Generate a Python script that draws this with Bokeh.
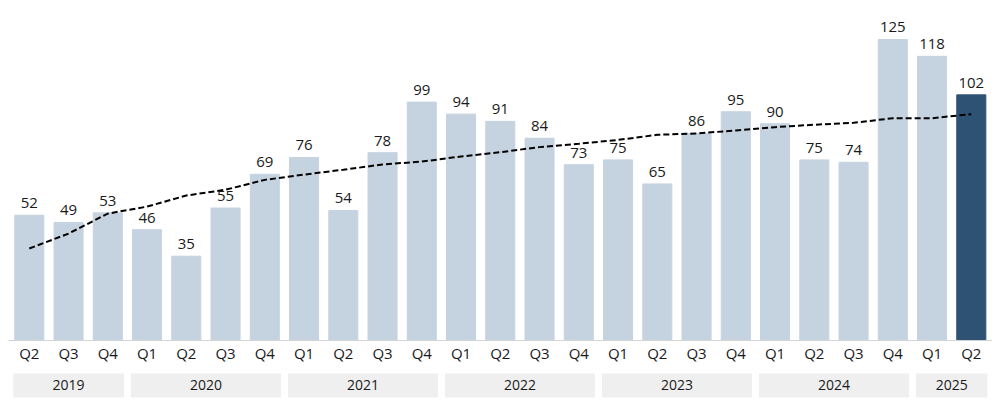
from bokeh.plotting import figure
from bokeh.models import ColumnDataSource, Range1d
from bokeh.core.properties import value
from bokeh.embed import file_html
from bokeh.resources import INLINE

# ---- data ----
quarters = ["Q2", "Q3", "Q4",
            "Q1", "Q2", "Q3", "Q4",
            "Q1", "Q2", "Q3", "Q4",
            "Q1", "Q2", "Q3", "Q4",
            "Q1", "Q2", "Q3", "Q4",
            "Q1", "Q2", "Q3", "Q4",
            "Q1", "Q2"]
years = ["2019", "2020", "2021", "2022", "2023", "2024", "2025"]
quarters_per_year = [3, 4, 4, 4, 4, 4, 2]
values = [52, 49, 53, 46, 35, 55, 69, 76, 54, 78, 99, 94, 91, 84, 73,
          75, 65, 86, 95, 90, 75, 74, 125, 118, 102]
trend = [38.2, 44.4, 52.7, 55.6, 60.2, 62.6, 66.7, 68.9, 70.9, 73.1, 74.3,
         76.4, 78.2, 80.3, 81.7, 83.3, 85.4, 86.0, 87.2, 88.6, 89.6, 90.4,
         92.3, 92.3, 94.0]

FONT = "Open Sans"
LIGHT = "#c5d3e0"
DARK = "#2e5273"
TEXT = "#1a1a1a"

n = len(values)
xs = list(range(n))
colors = [LIGHT] * (n - 1) + [DARK]

PXU = 2.408  # pixels per value unit

p = figure(width=1000, height=411, output_backend="svg", toolbar_location=None,
           x_range=Range1d(-0.734, 24.744), y_range=Range1d(-29.49, 141.19),
           min_border=0)
p.axis.visible = False
p.xgrid.visible = False
p.ygrid.visible = False
p.outline_line_color = None
p.background_fill_color = "white"
p.border_fill_color = "white"

src = ColumnDataSource(dict(x=xs, top=values, color=colors,
                            label=[str(v) for v in values], q=quarters,
                            zero=[0] * n, trend=trend))

p.vbar(x="x", top="top", bottom=0, width=0.74, color="color", source=src)

p.segment(x0=[-0.53], x1=[24.53], y0=[0], y1=[0], line_color="#d4d4d4",
          line_width=1)

p.line(x="x", y="trend", source=src, line_color="black", line_width=2,
       line_dash="6 3")

p.text(x="x", y="top", text="label", source=src, text_align="center",
       text_baseline="alphabetic", y_offset=-12, text_font=value(FONT),
       text_font_size="15px", text_color=TEXT)

p.text(x="x", y="zero", text="q", source=src, text_align="center",
       text_baseline="middle", y_offset=13, text_font=value(FONT),
       text_font_size="15px", text_color=TEXT)

# year bands
lefts, rights, mids = [], [], []
start = 0
for cnt in quarters_per_year:
    lefts.append(start - 0.37 - 0.04)
    rights.append(start + cnt - 1 + 0.37 + 0.04)
    mids.append(start + (cnt - 1) / 2)
    start += cnt
band_top = -33 / PXU
band_bot = -57 / PXU
ysrc = ColumnDataSource(dict(left=lefts, right=rights, mid=mids, yr=years,
                             top=[band_top] * len(years),
                             bottom=[band_bot] * len(years),
                             ym=[(band_top + band_bot) / 2] * len(years)))
p.quad(left="left", right="right", top="top", bottom="bottom", source=ysrc,
       fill_color="#efefef", line_color=None)
p.text(x="mid", y="ym", text="yr", source=ysrc, text_align="center",
       text_baseline="middle", text_font=value(FONT), text_font_size="14px",
       text_color=TEXT)

open("out.html", "w").write(file_html(p, INLINE))
